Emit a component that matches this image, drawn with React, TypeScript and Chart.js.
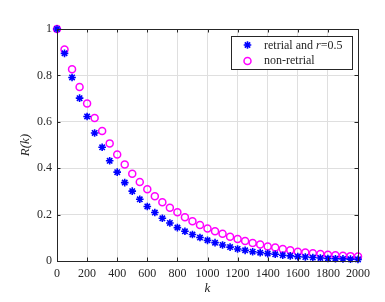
import React, { useEffect, useRef } from "react";
import { Chart, registerables } from "chart.js";

Chart.register(...registerables);

const kValues = [
  0, 50, 100, 150, 200, 250, 300, 350, 400, 450, 500, 550, 600, 650, 700, 750, 800, 850, 900, 950,
  1000, 1050, 1100, 1150, 1200, 1250, 1300, 1350, 1400, 1450, 1500, 1550, 1600, 1650, 1700, 1750,
  1800, 1850, 1900, 1950, 2000,
];
const retrial = [
  1.0, 0.895, 0.791, 0.702, 0.623, 0.552, 0.49, 0.432, 0.383, 0.338, 0.301, 0.266, 0.235, 0.209,
  0.184, 0.164, 0.144, 0.128, 0.114, 0.101, 0.089, 0.079, 0.069, 0.06, 0.052, 0.046, 0.04, 0.036,
  0.032, 0.029, 0.025, 0.022, 0.019, 0.017, 0.015, 0.013, 0.011, 0.01, 0.009, 0.008, 0.007,
];
const nonRetrial = [
  1.0, 0.912, 0.827, 0.75, 0.679, 0.616, 0.56, 0.507, 0.459, 0.416, 0.376, 0.341, 0.309, 0.279,
  0.253, 0.23, 0.21, 0.189, 0.171, 0.155, 0.14, 0.128, 0.117, 0.105, 0.095, 0.086, 0.078, 0.071,
  0.063, 0.058, 0.052, 0.046, 0.04, 0.037, 0.033, 0.03, 0.027, 0.025, 0.023, 0.021, 0.019,
];
const xTicks = [0, 200, 400, 600, 800, 1000, 1200, 1400, 1600, 1800, 2000];
const yTicks = [0, 0.2, 0.4, 0.6, 0.8, 1];
const seriesLabels = ["retrial and ", "r", "=0.5", "non-retrial"];

const FONT = "'Liberation Serif', 'Times New Roman', serif";
const AXIS = "#262626";

export default function App() {
  const ref = useRef<HTMLCanvasElement | null>(null);

  useEffect(() => {
    if (!ref.current) return;
    const decor = {
      id: "decor",
      afterDraw(chart: any) {
        const ctx = chart.ctx;
        const { left, right, top, bottom } = chart.chartArea;
        const xs = chart.scales.x;
        const ys = chart.scales.y;
        ctx.save();
        ctx.strokeStyle = AXIS;
        ctx.lineWidth = 1;
        ctx.strokeRect(Math.round(left) + 0.5, Math.round(top) + 0.5, Math.round(right - left), Math.round(bottom - top));
        const tl = 3.5;
        ctx.beginPath();
        xTicks.forEach((t) => {
          const px = Math.round(xs.getPixelForValue(t)) + 0.5;
          ctx.moveTo(px, bottom);
          ctx.lineTo(px, bottom - tl);
          ctx.moveTo(px, top);
          ctx.lineTo(px, top + tl);
        });
        yTicks.forEach((t) => {
          const py = Math.round(ys.getPixelForValue(t)) + 0.5;
          ctx.moveTo(left, py);
          ctx.lineTo(left + tl, py);
          ctx.moveTo(right, py);
          ctx.lineTo(right - tl, py);
        });
        ctx.stroke();

        // axis titles
        ctx.fillStyle = AXIS;
        ctx.font = `italic 13px ${FONT}`;
        ctx.textAlign = "center";
        ctx.textBaseline = "middle";
        ctx.fillText("k", (left + right) / 2, 289);
        ctx.save();
        ctx.translate(26, (top + bottom) / 2);
        ctx.rotate(-Math.PI / 2);
        ctx.fillText("R(k)", 0, 0);
        ctx.restore();

        // legend
        const lx = 231, ly = 36, lw = 121, lh = 33;
        ctx.fillStyle = "#ffffff";
        ctx.fillRect(lx, ly, lw, lh);
        ctx.strokeStyle = AXIS;
        ctx.strokeRect(lx + 0.5, ly + 0.5, lw, lh);
        // star marker
        const sx = 247.5, sy = 45;
        ctx.strokeStyle = "#0000ff";
        ctx.lineWidth = 1.6;
        ctx.beginPath();
        const r = 3.8;
        for (let i = 0; i < 4; i++) {
          const a = (i * Math.PI) / 4;
          ctx.moveTo(sx - r * Math.cos(a), sy - r * Math.sin(a));
          ctx.lineTo(sx + r * Math.cos(a), sy + r * Math.sin(a));
        }
        ctx.stroke();
        ctx.strokeStyle = "#ff00ff";
        ctx.lineWidth = 1.5;
        ctx.beginPath();
        ctx.arc(247.5, 61, 3.5, 0, Math.PI * 2);
        ctx.stroke();
        ctx.fillStyle = AXIS;
        ctx.textAlign = "left";
        ctx.font = `12px ${FONT}`;
        let tx = 264;
        ctx.fillText(seriesLabels[0], tx, 46);
        tx += ctx.measureText(seriesLabels[0]).width;
        ctx.font = `italic 12px ${FONT}`;
        ctx.fillText(seriesLabels[1], tx, 46);
        tx += ctx.measureText(seriesLabels[1]).width;
        ctx.font = `12px ${FONT}`;
        ctx.fillText(seriesLabels[2], tx, 46);
        ctx.fillText(seriesLabels[3], 264, 61);
        ctx.restore();
      },
    };

    const chart = new Chart(ref.current, {
      type: "scatter",
      data: {
        datasets: [
          {
            label: "retrial",
            data: kValues.map((k, i) => ({ x: k, y: retrial[i] })),
            pointStyle: "star",
            pointRadius: 3.8,
            borderColor: "#0000ff",
            backgroundColor: "#0000ff",
            pointBorderWidth: 1.6,
            clip: false,
            order: 0,
          },
          {
            label: "non-retrial",
            data: kValues.map((k, i) => ({ x: k, y: nonRetrial[i] })),
            pointStyle: "circle",
            pointRadius: 3.5,
            borderColor: "#ff00ff",
            backgroundColor: "rgba(0,0,0,0)",
            pointBorderWidth: 1.5,
            clip: false,
            order: 1,
          },
        ],
      },
      options: {
        animation: false,
        responsive: false,
        maintainAspectRatio: false,
        layout: { padding: { top: 29, right: 27, left: 0, bottom: 0 } },
        plugins: { legend: { display: false }, tooltip: { enabled: false } },
        scales: {
          x: {
            type: "linear",
            min: 0,
            max: 2000,
            afterFit: (s: any) => {
              s.height = 41;
            },
            afterBuildTicks: (s: any) => {
              s.ticks = xTicks.map((v) => ({ value: v }));
            },
            grid: { color: "#dfdfdf", drawTicks: false },
            border: { display: false },
            ticks: {
              padding: 6,
              color: AXIS,
              font: { family: FONT, size: 12 },
              maxRotation: 0,
              callback: (v: any) => String(v),
            },
          },
          y: {
            type: "linear",
            min: 0,
            max: 1,
            afterFit: (s: any) => {
              s.width = 57;
            },
            afterBuildTicks: (s: any) => {
              s.ticks = yTicks.map((v) => ({ value: v }));
            },
            grid: { color: "#dfdfdf", drawTicks: false },
            border: { display: false },
            ticks: {
              padding: 5,
              color: AXIS,
              font: { family: FONT, size: 12 },
              callback: (v: any) => String(Math.round(v * 10) / 10),
            },
          },
        },
      },
      plugins: [decor],
    });
    return () => chart.destroy();
  }, []);

  return (
    <div style={{ position: "fixed", left: 0, top: 0, width: 385, height: 302, background: "#fff" }}>
      <canvas ref={ref} width={385} height={302} style={{ width: 385, height: 302 }} />
    </div>
  );
}
